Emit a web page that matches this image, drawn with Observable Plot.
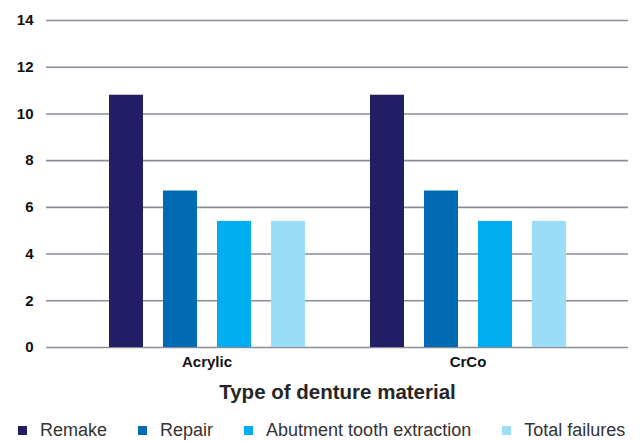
<!DOCTYPE html>
<html>
<head>
<meta charset="utf-8">
<script src="https://cdn.jsdelivr.net/npm/d3@7"></script>
<script src="https://cdn.jsdelivr.net/npm/@observablehq/plot@0.6"></script>
<style>
  html, body { margin: 0; padding: 0; background: #fff; }
  body { font-family: "Liberation Sans", Arial, Helvetica, sans-serif; width: 640px; height: 441px; overflow: hidden; }
  #chart svg { display: block; }
  .legend { display: flex; align-items: center; padding-left: 18px; margin-top: 8px; line-height: 20px; font-size: 18px; color: #333; white-space: nowrap; }
  .legend .item { display: flex; align-items: center; margin-right: 31px; }
  .legend .sw { width: 9px; height: 9px; margin-right: 13px; flex: none; }
</style>
</head>
<body>
<div id="chart"></div>
<div class="legend" id="legend"></div>
<script>
const materials = ["Acrylic", "CrCo"];
const seriesNames = ["Remake", "Repair", "Abutment tooth extraction", "Total failures"];
const acrylicValues = [10.8, 6.7, 5.4, 5.4];
const crcoValues = [10.8, 6.7, 5.4, 5.4];
const seriesColors = ["#221e66", "#006ab4", "#00aeef", "#9bdcf8"];
const yTicks = [0, 2, 4, 6, 8, 10, 12, 14];
const xTitle = "Type of denture material";

const valuesByMaterial = [acrylicValues, crcoValues];
const data = materials.flatMap((m, i) =>
  seriesNames.map((s, j) => ({ material: m, series: s, value: valuesByMaterial[i][j] }))
);

const gridStyle = { y: d => d, stroke: "#8a8d97", strokeWidth: 1.6, strokeOpacity: 1 };

const chart = Plot.plot({
  width: 640,
  height: 412,
  marginLeft: 47,
  marginRight: 13,
  marginTop: 20,
  marginBottom: 65,
  style: { fontFamily: '"Liberation Sans", Arial, Helvetica, sans-serif', background: "#fff" },
  fx: { domain: materials, paddingInner: 0, paddingOuter: 0.111, label: null },
  x: { domain: seriesNames, paddingInner: 0.378, paddingOuter: 0.575, axis: null },
  y: { domain: [0, 14] },
  color: { domain: seriesNames, range: seriesColors },
  marks: [
    Plot.ruleY(yTicks, { ...gridStyle, fx: () => materials[0], insetLeft: -30 }),
    Plot.ruleY(yTicks, { ...gridStyle, fx: () => materials[1], insetRight: -30 }),
    Plot.barY(data, { fx: "material", x: "series", y: "value", fill: "series" }),
    Plot.axisY({ ticks: yTicks, tickSize: 0, tickPadding: 43, label: null, fontSize: 15, fontWeight: "bold", fill: "#111" }),
    Plot.axisFx({ anchor: "bottom", tickSize: 0, tickPadding: 9, label: null, fontSize: 15, fontWeight: "bold", fill: "#111" }),
    Plot.text([xTitle], {
      facet: "super", frameAnchor: "bottom", dy: 51, text: d => d,
      fontSize: 20.5, fontWeight: "bold", fill: "#262626"
    })
  ]
});
document.getElementById("chart").appendChild(chart);

const legend = d3.select("#legend");
seriesNames.forEach((s, i) => {
  const item = legend.append("div").attr("class", "item");
  item.append("div").attr("class", "sw").style("background", seriesColors[i]);
  item.append("span").text(s);
});
</script>
</body>
</html>
